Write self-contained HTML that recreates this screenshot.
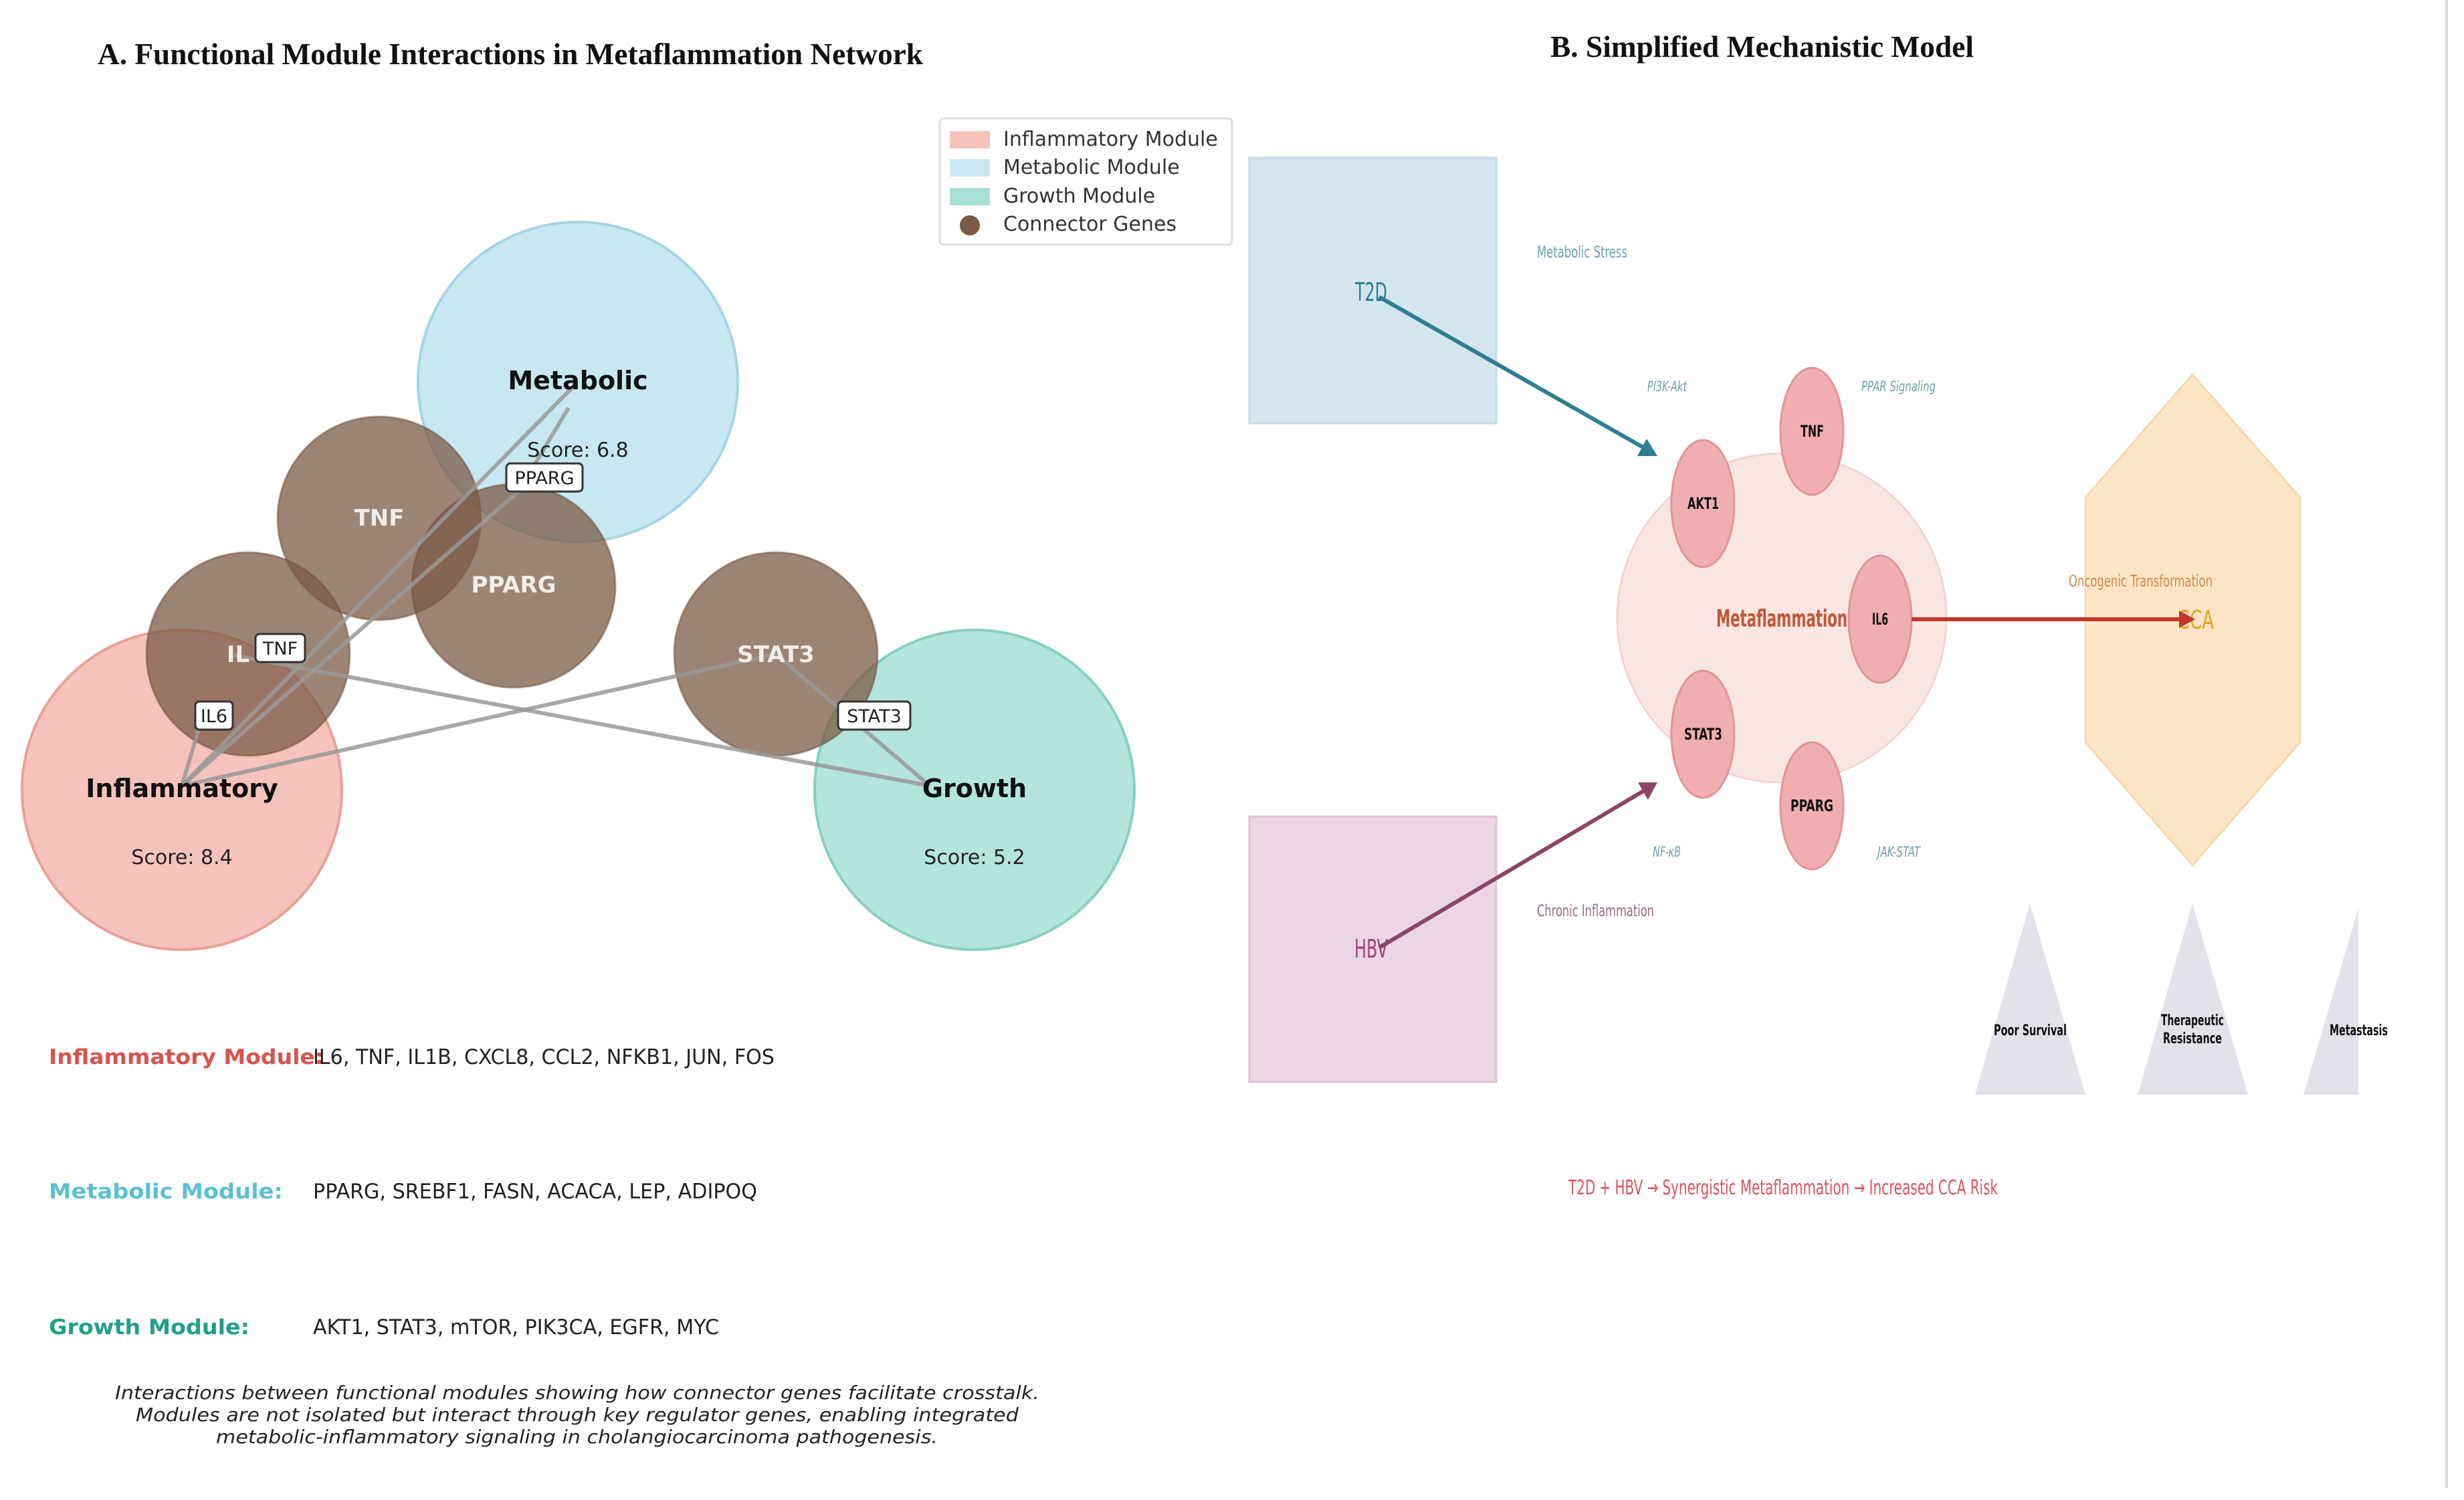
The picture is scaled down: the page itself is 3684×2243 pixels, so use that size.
<!DOCTYPE html>
<html><head><meta charset="utf-8"><style>
html,body{margin:0;padding:0;background:#fff;}
svg{display:block;}
.s{font-family:"DejaVu Sans","Liberation Sans",sans-serif;}
.c{font-family:"Liberation Sans Narrow","DejaVu Sans Condensed","Liberation Sans",sans-serif;}
</style></head><body>
<svg width="3684" height="2243" viewBox="0 0 3684 2243" xmlns="http://www.w3.org/2000/svg">
<rect width="3684" height="2243" fill="#fff"/>
<line x1="3658" y1="0" x2="3658" y2="2225" stroke="#d8d8d8" stroke-width="4"/>
<!-- Titles -->
<text x="146" y="96" font-family="Liberation Serif,serif" font-weight="bold" font-size="46" fill="#111" textLength="1234" lengthAdjust="spacingAndGlyphs">A. Functional Module Interactions in Metaflammation Network</text>
<text x="2318" y="85" font-family="Liberation Serif,serif" font-weight="bold" font-size="46" fill="#111" textLength="633" lengthAdjust="spacingAndGlyphs">B. Simplified Mechanistic Model</text>

<!-- Legend -->
<rect x="1405" y="177" width="437" height="189" rx="6" fill="#fff" stroke="#ddd" stroke-width="3"/>
<rect x="1420" y="196" width="60" height="26" fill="#f5c2b9"/>
<rect x="1420" y="238" width="60" height="26" fill="#c9e8f1"/>
<rect x="1420" y="281" width="60" height="26" fill="#a9e0d5"/>
<circle cx="1450" cy="337" r="15" fill="#7a5a45"/>
<g class="s" font-size="30" fill="#333">
<text x="1500" y="218">Inflammatory Module</text>
<text x="1500" y="260">Metabolic Module</text>
<text x="1500" y="303">Growth Module</text>
<text x="1500" y="345">Connector Genes</text>
</g>

<!-- Module circles -->
<circle cx="864" cy="571" r="239" fill="#bde4ef" fill-opacity="0.85" stroke="#a5d5e3" stroke-width="4"/>
<circle cx="272" cy="1181" r="239" fill="#f4b9b0" fill-opacity="0.85" stroke="#e8a196" stroke-width="4"/>
<circle cx="1457" cy="1181" r="239" fill="#a6e0d6" fill-opacity="0.85" stroke="#86cfc1" stroke-width="4"/>

<!-- Connector circles -->
<g fill="#7b5b45" fill-opacity="0.75" stroke="#6b4d3a" stroke-opacity="0.5" stroke-width="3">
<circle cx="567" cy="775" r="152"/>
<circle cx="768" cy="876" r="152"/>
<circle cx="371" cy="978" r="152"/>
<circle cx="1160" cy="978" r="152"/>
</g>

<!-- Lines -->
<g stroke="#999" stroke-width="6" stroke-opacity="0.85" fill="none">
<line x1="272" y1="1175" x2="860" y2="575"/>
<line x1="272" y1="1175" x2="775" y2="735"/>
<line x1="775" y1="735" x2="850" y2="610"/>
<line x1="272" y1="1175" x2="1160" y2="978"/>
<line x1="350" y1="980" x2="1390" y2="1175"/>
<line x1="1160" y1="978" x2="1390" y2="1175"/>
<line x1="300" y1="1080" x2="272" y2="1175"/>
</g>

<!-- Module labels -->
<g class="s" text-anchor="middle">
<text x="864" y="582" font-size="38" font-weight="bold" fill="#111">Metabolic</text>
<text x="864" y="683" font-size="30" fill="#222">Score: 6.8</text>
<text x="272" y="1192" font-size="38" font-weight="bold" fill="#111">Inflammatory</text>
<text x="272" y="1292" font-size="30" fill="#222">Score: 8.4</text>
<text x="1457" y="1192" font-size="38" font-weight="bold" fill="#111">Growth</text>
<text x="1457" y="1292" font-size="30" fill="#222">Score: 5.2</text>
<g font-size="34" font-weight="bold" fill="#f3ede8">
<text x="567" y="786">TNF</text>
<text x="768" y="886">PPARG</text>
<text x="356" y="990">IL</text>
<text x="1160" y="990">STAT3</text>
</g>
</g>

<!-- tags -->
<g class="s" font-size="27" text-anchor="middle" fill="#222">
<rect x="757" y="693" width="114" height="42" rx="6" fill="#fff" stroke="#333" stroke-width="3"/>
<text x="814" y="724">PPARG</text>
<rect x="382" y="948" width="74" height="42" rx="6" fill="#fff" stroke="#333" stroke-width="3"/>
<text x="419" y="979">TNF</text>
<rect x="292" y="1049" width="56" height="42" rx="6" fill="#fff" stroke="#333" stroke-width="3"/>
<text x="320" y="1080">IL6</text>
<rect x="1253" y="1049" width="108" height="42" rx="6" fill="#fff" stroke="#333" stroke-width="3"/>
<text x="1307" y="1080">STAT3</text>
</g>

<!-- Module gene lists -->
<g class="s" font-size="31">
<text x="73" y="1591" font-weight="bold" fill="#d9534f" textLength="411" lengthAdjust="spacingAndGlyphs">Inflammatory Module:</text>
<text x="468" y="1591" fill="#222" textLength="690" lengthAdjust="spacingAndGlyphs">IL6, TNF, IL1B, CXCL8, CCL2, NFKB1, JUN, FOS</text>
<text x="73" y="1792" font-weight="bold" fill="#5bc0d0" textLength="350" lengthAdjust="spacingAndGlyphs">Metabolic Module:</text>
<text x="468" y="1792" fill="#222" textLength="664" lengthAdjust="spacingAndGlyphs">PPARG, SREBF1, FASN, ACACA, LEP, ADIPOQ</text>
<text x="73" y="1995" font-weight="bold" fill="#1fa088" textLength="300" lengthAdjust="spacingAndGlyphs">Growth Module:</text>
<text x="468" y="1995" fill="#222" textLength="607" lengthAdjust="spacingAndGlyphs">AKT1, STAT3, mTOR, PIK3CA, EGFR, MYC</text>
</g>
<g class="s" font-size="28" font-style="italic" fill="#222">
<text x="172" y="2092" textLength="1382" lengthAdjust="spacingAndGlyphs">Interactions between functional modules showing how connector genes facilitate crosstalk.</text>
<text x="203" y="2125" textLength="1320" lengthAdjust="spacingAndGlyphs">Modules are not isolated but interact through key regulator genes, enabling integrated</text>
<text x="323" y="2158" textLength="1079" lengthAdjust="spacingAndGlyphs">metabolic-inflammatory signaling in cholangiocarcinoma pathogenesis.</text>
</g>

<!-- Panel B -->
<rect x="1868" y="236" width="369" height="397" fill="#d3e6ee" stroke="#c2dbe6" stroke-width="3"/>
<rect x="1868" y="1221" width="369" height="397" fill="#ebd6e4" stroke="#dcc3d4" stroke-width="3"/>
<g class="c" font-size="38" text-anchor="middle">
<text x="2050" y="450" fill="#2e7d95" textLength="48" lengthAdjust="spacingAndGlyphs">T2D</text>
<text x="2050" y="1432" fill="#a0457a" textLength="50" lengthAdjust="spacingAndGlyphs">HBV</text>
</g>
<g class="c" font-size="24">
<text x="2298" y="385" fill="#6aa0b5" textLength="135" lengthAdjust="spacingAndGlyphs">Metabolic Stress</text>
<text x="2298" y="1370" fill="#9a6a85" textLength="175" lengthAdjust="spacingAndGlyphs">Chronic Inflammation</text>
<g fill="#6a9fa8" font-style="italic" font-size="21">
<text x="2463" y="585" textLength="59" lengthAdjust="spacingAndGlyphs">PI3K-Akt</text>
<text x="2783" y="585" textLength="111" lengthAdjust="spacingAndGlyphs">PPAR Signaling</text>
<text x="2471" y="1281" textLength="42" lengthAdjust="spacingAndGlyphs">NF-κB</text>
<text x="2807" y="1281" textLength="64" lengthAdjust="spacingAndGlyphs">JAK-STAT</text>
</g>
</g>

<circle cx="2664" cy="924" r="246" fill="#f8e6e2" stroke="#f0d6d0" stroke-width="3"/>
<!-- arrows -->
<line x1="2062" y1="444" x2="2462" y2="672" stroke="#2e7d95" stroke-width="6"/>
<polygon points="2478,682 2448,682 2462,656" fill="#2e7d95"/>
<line x1="2062" y1="1417" x2="2462" y2="1180" stroke="#8b4566" stroke-width="6"/>
<polygon points="2478,1170 2464,1196 2449,1170" fill="#8b4566"/>

<g fill="#f1aeb1" stroke="#e0959a" stroke-width="3">
<ellipse cx="2709" cy="645" rx="47" ry="95"/>
<ellipse cx="2546" cy="753" rx="47" ry="95"/>
<ellipse cx="2811" cy="926" rx="47" ry="95"/>
<ellipse cx="2546" cy="1098" rx="47" ry="95"/>
<ellipse cx="2709" cy="1205" rx="47" ry="95"/>
</g>
<g class="c" font-size="24" font-weight="bold" fill="#111">
<text x="2692" y="653" textLength="35" lengthAdjust="spacingAndGlyphs">TNF</text>
<text x="2523" y="761" textLength="47" lengthAdjust="spacingAndGlyphs">AKT1</text>
<text x="2799" y="934" textLength="24" lengthAdjust="spacingAndGlyphs">IL6</text>
<text x="2518" y="1106" textLength="57" lengthAdjust="spacingAndGlyphs">STAT3</text>
<text x="2677" y="1213" textLength="64" lengthAdjust="spacingAndGlyphs">PPARG</text>
</g>
<text x="2566" y="937" class="c" font-size="36" font-weight="bold" fill="#c0583a" textLength="196" lengthAdjust="spacingAndGlyphs">Metaflammation</text>

<polygon points="3278,560 3439,744 3439,1110 3278,1294 3118,1110 3118,744" fill="#fbe5c4" stroke="#f5d9b0" stroke-width="3"/>
<text x="3093" y="877" class="c" font-size="24" fill="#d08a50" textLength="215" lengthAdjust="spacingAndGlyphs">Oncogenic Transformation</text>
<text x="3256" y="940" class="c" font-size="38" fill="#e8a020" textLength="54" lengthAdjust="spacingAndGlyphs">CCA</text>
<line x1="2858" y1="926" x2="3262" y2="926" stroke="#c0392b" stroke-width="6"/>
<polygon points="3282,926 3258,913 3258,939" fill="#c0392b"/>

<g fill="#e2e2eb">
<polygon points="3035,1351 3118,1637 2953,1637"/>
<polygon points="3278,1351 3361,1637 3196,1637"/>
<polygon points="3526,1358 3526,1637 3444,1637"/>
</g>
<g class="c" font-size="22" font-weight="bold" fill="#111">
<text x="2981" y="1548" textLength="109" lengthAdjust="spacingAndGlyphs">Poor Survival</text>
<text x="3231" y="1533" textLength="94" lengthAdjust="spacingAndGlyphs">Therapeutic</text>
<text x="3234" y="1560" textLength="88" lengthAdjust="spacingAndGlyphs">Resistance</text>
<text x="3483" y="1548" textLength="87" lengthAdjust="spacingAndGlyphs">Metastasis</text>
</g>
<text x="2345" y="1786" class="c" font-size="30" fill="#e05060" textLength="642" lengthAdjust="spacingAndGlyphs">T2D + HBV → Synergistic Metaflammation → Increased CCA Risk</text>
</svg>
</body></html>
